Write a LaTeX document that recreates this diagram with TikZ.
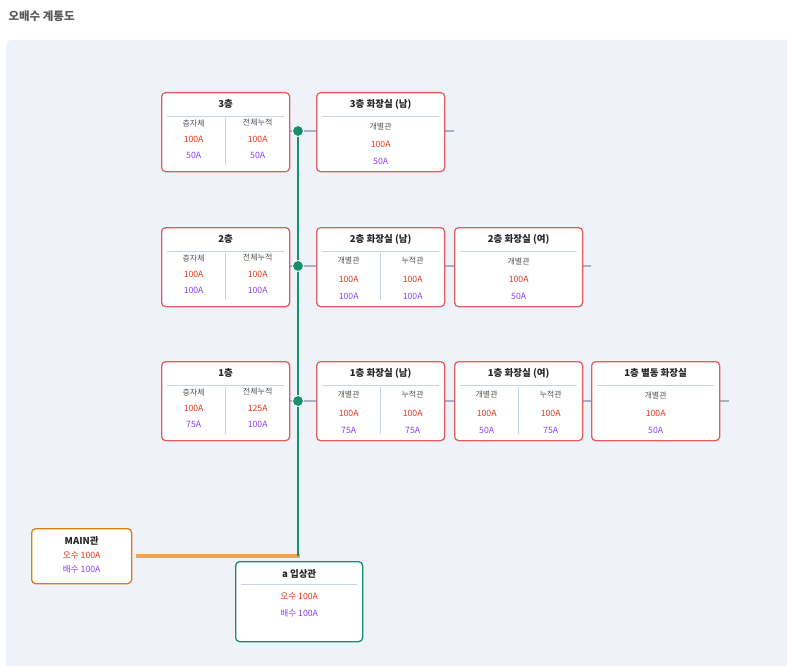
\documentclass[tikz,border=0pt]{standalone}
\usepackage{fontspec}
\setmainfont{Noto Sans CJK KR}
\usetikzlibrary{calc}
\definecolor{bgp}{HTML}{EFF2F9}
\definecolor{rbd}{HTML}{E06060}
\definecolor{redv}{HTML}{E8341C}
\definecolor{purv}{HTML}{8A3FFC}
\definecolor{lblc}{HTML}{555555}
\definecolor{sepc}{HTML}{C9D3E6}
\definecolor{grn}{HTML}{14906A}
\definecolor{org}{HTML}{D9800F}
\definecolor{orgl}{HTML}{F0A24F}
\definecolor{stub}{HTML}{A8B2C6}
\tikzset{
 box/.style={draw=rbd,line width=1.3pt,fill=white,rounded corners=4pt,anchor=north west,minimum width=128pt,minimum height=79pt,inner sep=0pt},
 ttl/.style={font=\bfseries\fontsize{9.5}{11}\selectfont,text=black!85},
 lbl/.style={font=\fontsize{8}{9}\selectfont,text=lblc},
 rv/.style={font=\fontsize{8.7}{10}\selectfont,text=redv},
 pv/.style={font=\fontsize{8.7}{10}\selectfont,text=purv},
 sep/.style={draw=sepc,line width=0.8pt},
 dot/.style={circle,fill=grn,draw=white,line width=0.8pt,inner sep=0pt,minimum size=11pt},
 st/.style={draw=stub,line width=1.5pt}
}
\newcommand\bxtwo[9]{%
 \node[box] (#1) at (#2) {};
 \node[ttl] (#1-t) at ($(#1.north)+(0,12)$) {#3};
 \draw[sep] ($(#1.north west)+(6,24)$) -- ($(#1.north east)+(-6,24)$);
 \draw[sep] ($(#1.north)+(0,26)$) -- ($(#1.north)+(0,73)$);
 \node[lbl] (#1-l1) at ($(#1.north)+(-32,\yl)$) {#4};
 \node[lbl] (#1-l2) at ($(#1.north)+(32,\yl)$) {#5};
 \node[rv] (#1-r1) at ($(#1.north)+(-32,\yr)$) {#6};
 \node[rv] (#1-r2) at ($(#1.north)+(32,\yr)$) {#7};
 \node[pv] (#1-p1) at ($(#1.north)+(-32,\yp)$) {#8};
 \node[pv] (#1-p2) at ($(#1.north)+(32,\yp)$) {#9};
}
\newcommand\bxone[6]{%
 \node[box] (#1) at (#2) {};
 \node[ttl] (#1-t) at ($(#1.north)+(0,12)$) {#3};
 \draw[sep] ($(#1.north west)+(6,24)$) -- ($(#1.north east)+(-6,24)$);
 \node[lbl] (#1-l) at ($(#1.north)+(0,35)$) {#4};
 \node[rv] (#1-r) at ($(#1.north)+(0,52)$) {#5};
 \node[pv] (#1-p) at ($(#1.north)+(0,69)$) {#6};
}
\def\yl{31}\def\yr{47}\def\yp{63}
\begin{document}
\begin{tikzpicture}[x=1pt,y=-1pt]
\useasboundingbox (0,0) rectangle (787,666);
\node[anchor=west,font=\bfseries\fontsize{11.5}{13}\selectfont,text=black!65] (title) at (5,16) {오배수 계통도};
\fill[bgp,rounded corners=6pt] (6,40) rectangle (800,680);
\foreach \y in {131,266,401}{\draw[st] (289,\y) -- (316,\y);}
\draw[st] (444,131) -- (454,131);
\draw[st] (444,266) -- (454,266); \draw[st] (581,266) -- (591,266);
\draw[st] (444,401) -- (454,401); \draw[st] (581,401) -- (591,401); \draw[st] (719,401) -- (729,401);
\coordinate (j) at (298,556);
\draw[orgl,line width=3.5pt] (136,556) -- (299.5,556);
\draw[grn,line width=2.8pt] (298,131) -- (j);
\def\yl{31}\def\yr{47}\def\yp{63}
\bxtwo{f3}{161,92}{3층}{층자체}{전체누적}{100A}{100A}{50A}{50A}
\bxtwo{f2}{161,227}{2층}{층자체}{전체누적}{100A}{100A}{100A}{100A}
\bxtwo{f1}{161,361}{1층}{층자체}{전체누적}{100A}{125A}{75A}{100A}
\def\yl{34}\def\yr{52}\def\yp{69}
\bxone{t3m}{316,92}{3층 화장실 (남)}{개별관}{100A}{50A}
\bxtwo{t2m}{316,227}{2층 화장실 (남)}{개별관}{누적관}{100A}{100A}{100A}{100A}
\bxone{t2w}{454,227}{2층 화장실 (여)}{개별관}{100A}{50A}
\bxtwo{t1m}{316,361}{1층 화장실 (남)}{개별관}{누적관}{100A}{100A}{75A}{75A}
\bxtwo{t1w}{454,361}{1층 화장실 (여)}{개별관}{누적관}{100A}{100A}{50A}{75A}
\bxone{t1s}{591,361}{1층 별동 화장실}{개별관}{100A}{50A}
\node[dot] (d3) at (298,131) {};
\node[dot] (d2) at (298,266) {};
\node[dot] (d1) at (298,401) {};
\node[draw=org,line width=1.3pt,fill=white,rounded corners=4pt,anchor=north west,minimum width=100pt,minimum height=55pt] (main) at (31,528) {};
\node[ttl] (main-t) at ($(main.north)+(0,13)$) {MAIN관};
\node[font=\fontsize{8.7}{10}\selectfont] (main-a) at ($(main.north)+(0,27)$) {\textcolor{redv}{오수 100A}};
\node[font=\fontsize{8.7}{10}\selectfont] (main-b) at ($(main.north)+(0,41)$) {\textcolor{purv}{배수 100A}};
\node[draw=grn,line width=1.3pt,fill=white,rounded corners=4pt,anchor=north west,minimum width=127pt,minimum height=80pt] (ris) at (235,561) {};
\node[ttl] (ris-t) at ($(ris.north)+(0,13)$) {a 입상관};
\draw[sep] ($(ris.north west)+(6,23)$) -- ($(ris.north east)+(-6,23)$);
\node[font=\fontsize{8.7}{10}\selectfont] (ris-a) at ($(ris.north)+(0,35)$) {\textcolor{redv}{오수 100A}};
\node[font=\fontsize{8.7}{10}\selectfont] (ris-b) at ($(ris.north)+(0,52)$) {\textcolor{purv}{배수 100A}};
\end{tikzpicture}
\end{document}
